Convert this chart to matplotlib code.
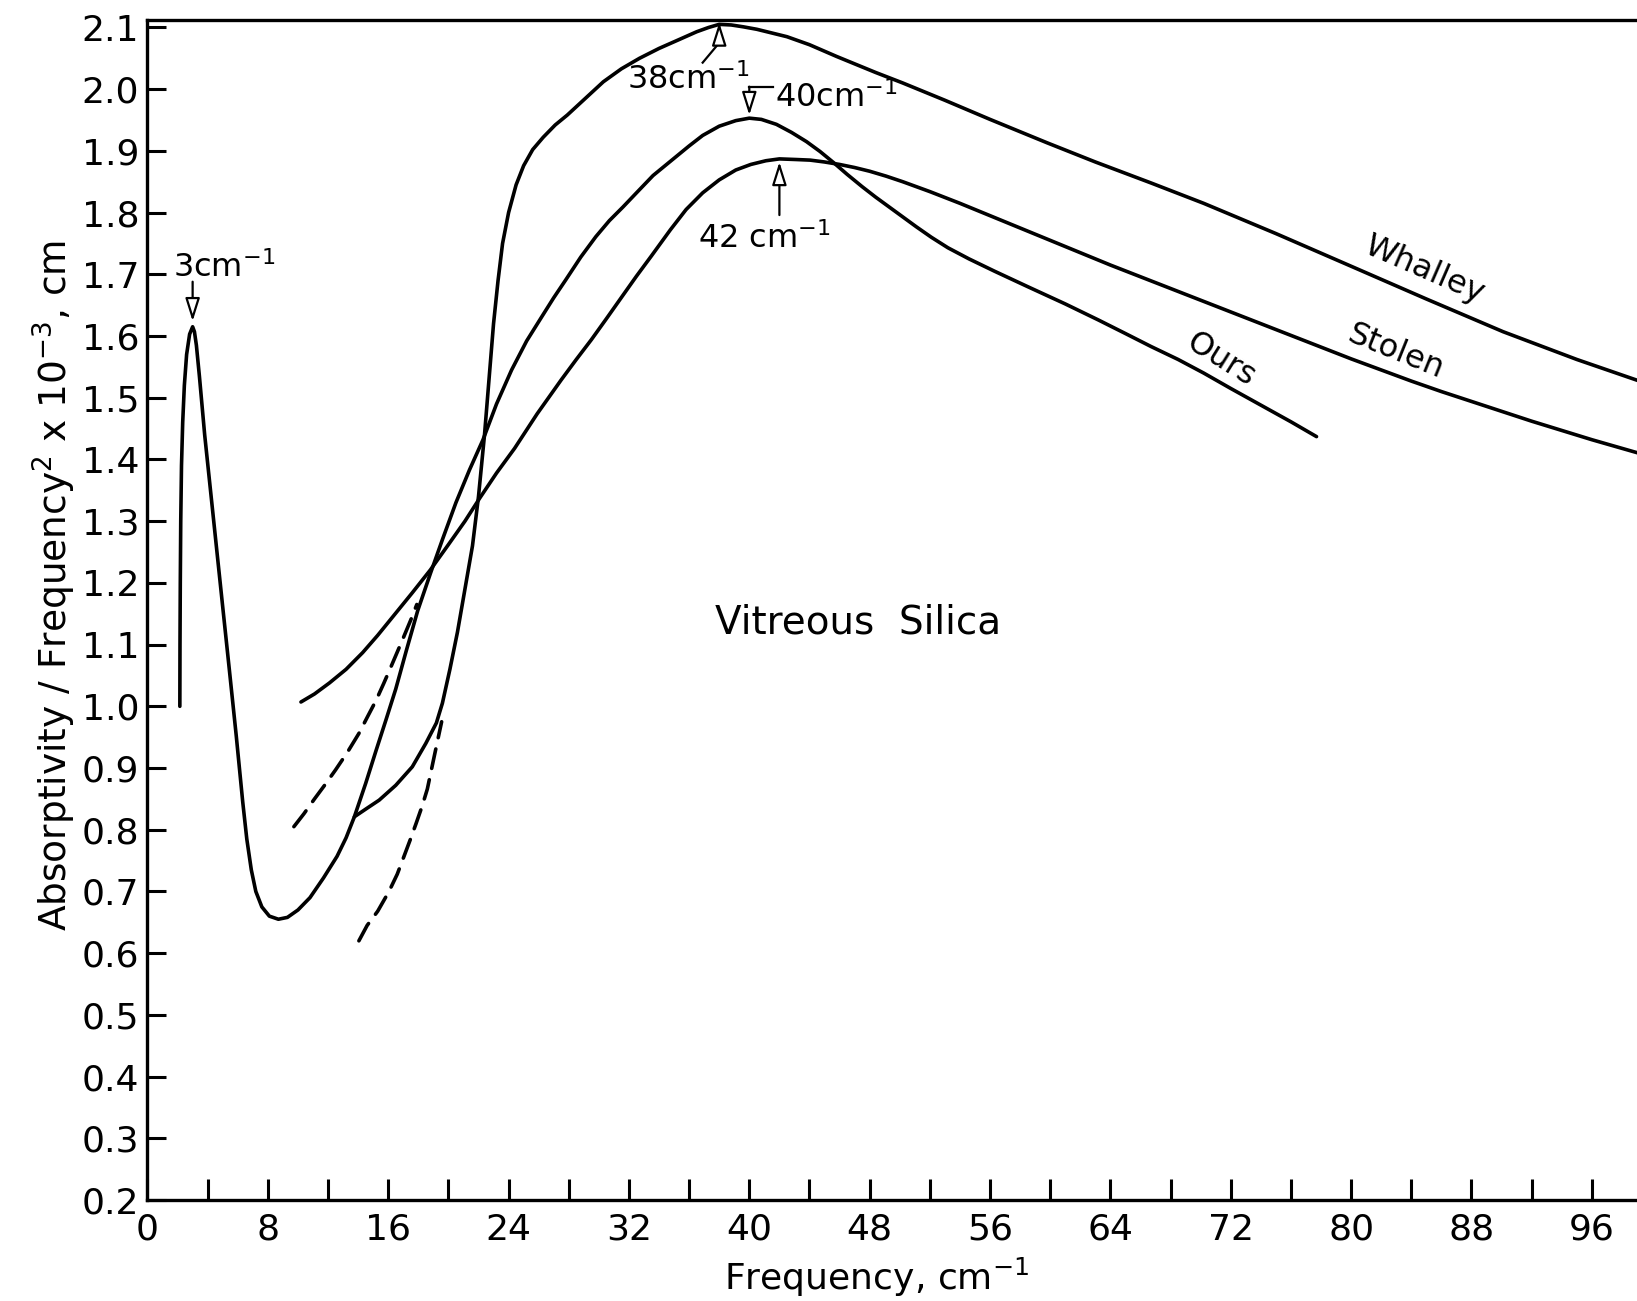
import matplotlib.pyplot as plt
from matplotlib.ticker import MultipleLocator, FormatStrFormatter

plt.rcParams['font.family'] = ['DejaVu Sans']
plt.rcParams['mathtext.fontset'] = 'dejavusans'

# absorptivity / frequency^2 (x 10^-3 cm) against frequency (cm^-1)
ours_freq = [2.15, 2.16, 2.18, 2.21, 2.26, 2.34, 2.45, 2.6, 2.8, 3.0,
             3.12, 3.25, 3.45, 3.8, 4.2, 4.6, 5.0, 5.45, 5.9, 6.33,
             6.6, 6.9, 7.2, 7.6, 8.1, 8.7, 9.3, 10.0, 10.8, 11.7,
             12.6, 13.2, 13.75, 14.5, 15.2, 15.85, 16.5, 17.2, 17.96, 18.8,
             19.6, 20.5, 21.4, 22.3, 23.2, 24.2, 25.2, 26.2, 27.0, 27.8,
             28.8, 29.8, 30.7, 31.6, 32.5, 33.6, 34.9, 36.0, 36.9, 38.0,
             39.1, 40.0, 40.8, 41.8, 42.8, 43.8, 44.7, 45.6, 46.5, 47.5,
             48.4, 49.3, 50.2, 51.1, 52.1, 53.2, 54.6, 56.3, 58.5, 61.0,
             63.2, 65.0, 66.7, 68.5, 70.2, 72.0, 74.0, 76.0, 77.7]
ours_abs = [1.00, 1.10, 1.20, 1.30, 1.39, 1.46, 1.52, 1.57, 1.603, 1.615,
            1.607, 1.585, 1.535, 1.44, 1.347, 1.254, 1.161, 1.057, 0.952, 0.845,
            0.785, 0.735, 0.70, 0.675, 0.66, 0.655, 0.658, 0.67, 0.69, 0.722,
            0.757, 0.787, 0.821, 0.875, 0.929, 0.978, 1.028, 1.09, 1.155, 1.215,
            1.27, 1.33, 1.383, 1.432, 1.49, 1.545, 1.592, 1.631, 1.662, 1.691,
            1.728, 1.761, 1.787, 1.809, 1.832, 1.86, 1.886, 1.908, 1.925, 1.94,
            1.949, 1.953, 1.951, 1.943, 1.93, 1.915, 1.899, 1.881, 1.862, 1.842,
            1.825, 1.809, 1.793, 1.777, 1.76, 1.743, 1.725, 1.705, 1.68, 1.652,
            1.626, 1.604, 1.583, 1.562, 1.540, 1.515, 1.488, 1.461, 1.437]

stolen_freq = [10.2, 11.1, 12.1, 13.2, 14.3, 15.3, 16.3, 17.6, 18.8, 20.0,
               21.1, 22.1, 23.2, 24.4, 25.9, 27.5, 28.5, 29.5, 30.5, 31.6,
               32.5, 33.5, 34.75, 35.8, 36.9, 38.0, 39.1, 40.1, 41.1, 42.0,
               43.1, 44.05, 45.0, 46.0, 47.0, 48.0, 49.1, 50.2, 52.0, 54.0,
               56.0, 58.0, 60.0, 62.0, 64.0, 66.0, 68.0, 70.0, 72.0, 74.0,
               76.0, 78.0, 80.0, 82.0, 84.0, 86.0, 88.0, 90.0, 92.0, 94.0,
               96.0, 98.0, 100.0]
stolen_abs = [1.007, 1.02, 1.038, 1.06, 1.087, 1.115, 1.145, 1.184, 1.221, 1.262,
              1.30, 1.338, 1.378, 1.418, 1.474, 1.529, 1.562, 1.594, 1.628, 1.666,
              1.697, 1.73, 1.772, 1.805, 1.832, 1.853, 1.869, 1.878, 1.884, 1.887,
              1.886, 1.885, 1.882, 1.878, 1.873, 1.867, 1.859, 1.85, 1.834, 1.815,
              1.795, 1.775, 1.755, 1.735, 1.715, 1.696, 1.677, 1.658, 1.639, 1.62,
              1.601, 1.582, 1.563, 1.545, 1.527, 1.51, 1.494, 1.478, 1.462, 1.447,
              1.432, 1.418, 1.404]

whalley_freq = [13.75, 14.6, 15.4, 16.5, 17.6, 18.5, 19.2, 19.6, 20.1, 20.6,
                21.1, 21.6, 22.0, 22.4, 22.7, 23.0, 23.3, 23.6, 24.0, 24.5,
                25.0, 25.6, 26.3, 27.1, 27.9, 29.1, 30.3, 31.5, 32.7, 34.0,
                35.3, 36.5, 37.3, 38.0, 38.8, 39.6, 40.5, 41.5, 42.5, 44.0,
                45.8, 48.4, 50.2, 53.0, 56.0, 59.8, 63.0, 66.7, 70.2, 75.0,
                80.1, 85.0, 90.1, 95.0, 100.0]
whalley_abs = [0.821, 0.835, 0.848, 0.872, 0.902, 0.94, 0.973, 1.005, 1.06, 1.12,
               1.19, 1.26, 1.34, 1.44, 1.53, 1.62, 1.69, 1.75, 1.80, 1.845,
               1.876, 1.902, 1.922, 1.942, 1.958, 1.985, 2.012, 2.033, 2.05, 2.066,
               2.08, 2.093, 2.1, 2.105, 2.104, 2.101, 2.097, 2.091, 2.085, 2.072,
               2.053, 2.027, 2.01, 1.982, 1.951, 1.913, 1.882, 1.848, 1.815, 1.766,
               1.712, 1.66, 1.607, 1.562, 1.52]

# extrapolated (dashed) sections
ext_a_freq = [9.73, 10.4, 11.1, 11.8, 12.5, 13.3, 14.05, 14.6, 15.2, 15.7, 16.2, 16.9, 17.5, 17.9]
ext_a_abs = [0.805, 0.826, 0.85, 0.873, 0.897, 0.926, 0.956, 0.982, 1.01, 1.037, 1.065, 1.105, 1.14, 1.165]
ext_b_freq = [14.05, 14.6, 15.3, 16.05, 16.6, 17.05, 17.45, 17.85, 18.25, 18.6, 19.05, 19.55]
ext_b_abs = [0.62, 0.645, 0.668, 0.70, 0.728, 0.757, 0.783, 0.81, 0.838, 0.866, 0.918, 0.975]

# peak positions quoted on the chart
peak_low = 3.0
peak_whalley = 38.0
peak_ours = 40.0
peak_stolen = 42.0

fig = plt.figure(figsize=(16.37, 13.01), dpi=100)
ax = fig.add_axes([0.0901, 0.0776, 0.9099, 0.907])

lw = 2.6
ax.plot(ours_freq, ours_abs, color='black', lw=lw, solid_capstyle='round')
ax.plot(stolen_freq, stolen_abs, color='black', lw=lw, solid_capstyle='round')
ax.plot(whalley_freq, whalley_abs, color='black', lw=lw, solid_capstyle='round')
ax.plot(ext_a_freq, ext_a_abs, color='black', lw=lw, ls=(0, (5.5, 3.2)), dash_capstyle='round')
ax.plot(ext_b_freq, ext_b_abs, color='black', lw=lw, ls=(0, (5.5, 3.2)), dash_capstyle='round')

ax.set_xlim(0, 99.0)
ax.set_ylim(0.2, 2.112)

ax.xaxis.set_major_locator(MultipleLocator(8))
ax.xaxis.set_minor_locator(MultipleLocator(4))
ax.yaxis.set_major_locator(MultipleLocator(0.1))
ax.yaxis.set_major_formatter(FormatStrFormatter('%.1f'))
ax.tick_params(axis='both', which='both', direction='in', width=2.2, labelsize=26)
ax.tick_params(axis='x', which='both', length=15, pad=9)
ax.tick_params(axis='y', which='major', length=14, pad=6)
ax.tick_params(axis='y', which='minor', left=False)

for side in ['left', 'bottom', 'top']:
    ax.spines[side].set_linewidth(2.4)
ax.spines['right'].set_visible(False)

fig.text(68 / 1637, 1 - 585 / 1301,
         r'Absorptivity / Frequency$^{2}$ x 10$^{-3}$, cm',
         rotation=90, rotation_mode='anchor', ha='center', va='baseline', fontsize=27)
fig.text(877 / 1637, 1 - 1290 / 1301, r'Frequency, cm$^{-1}$',
         ha='center', va='baseline', fontsize=26)

ax.text(47.2, 1.135, 'Vitreous  Silica', ha='center', va='center', fontsize=28)

ax.text(84.9, 1.707, 'Whalley', ha='center', va='center', fontsize=23, rotation=-23.5)
ax.text(83.0, 1.574, 'Stolen', ha='center', va='center', fontsize=23, rotation=-22)
ax.text(71.3, 1.561, 'Ours', ha='center', va='center', fontsize=23, rotation=-32)

head = dict(arrowstyle='-|>,head_length=0.7,head_width=0.22', fc='white', ec='black',
            lw=1.6, mutation_scale=20, shrinkA=0, shrinkB=0)

# 3 cm^-1 band
ax.text(1.7, 1.696, r'3cm$^{-1}$', ha='left', va='baseline', fontsize=23)
ax.annotate('', xy=(peak_low, 1.624), xytext=(peak_low, 1.688), arrowprops=head)

# Whalley maximum
ax.text(31.9, 2.0, r'38cm$^{-1}$', ha='left', va='baseline', fontsize=23)
ax.plot([36.9, peak_whalley], [2.043, 2.075], color='black', lw=1.6)
ax.annotate('', xy=(peak_whalley, 2.108), xytext=(peak_whalley, 2.075), arrowprops=head)

# our maximum
ax.text(41.7, 1.971, r'40cm$^{-1}$', ha='left', va='baseline', fontsize=23)
ax.plot([41.55, peak_ours], [2.004, 2.004], color='black', lw=1.6)
ax.annotate('', xy=(peak_ours, 1.958), xytext=(peak_ours, 2.004), arrowprops=head)

# Stolen maximum
ax.text(36.6, 1.743, r'42 cm$^{-1}$', ha='left', va='baseline', fontsize=23)
ax.annotate('', xy=(peak_stolen, 1.882), xytext=(peak_stolen, 1.796), arrowprops=head)

fig.savefig('out.png', dpi=100)
